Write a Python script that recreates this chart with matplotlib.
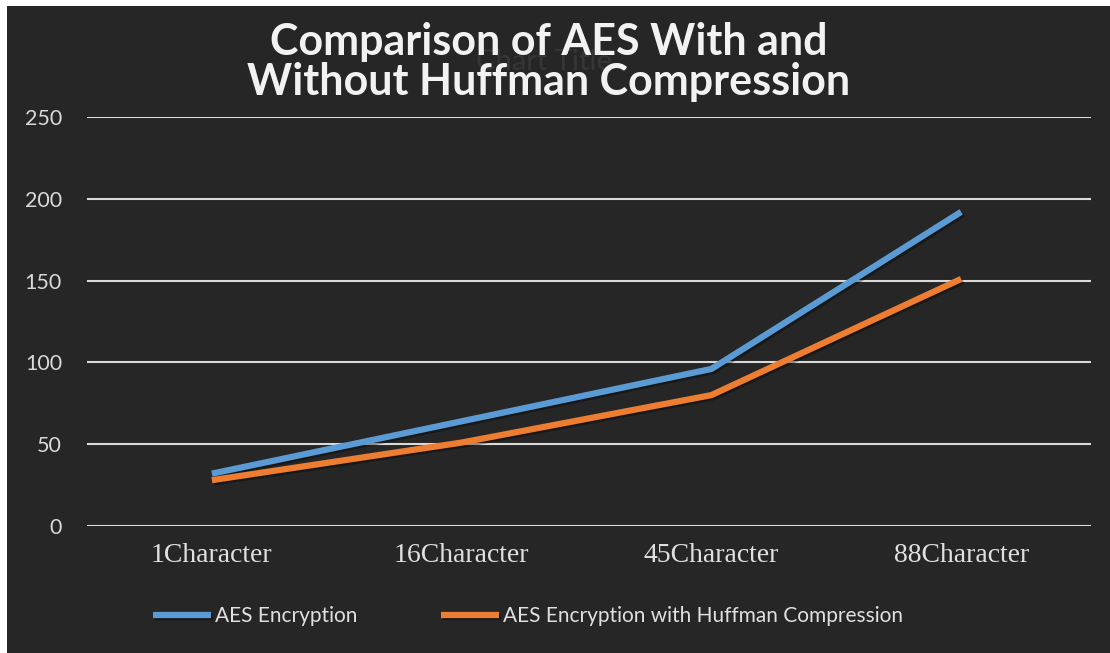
import matplotlib
matplotlib.use("Agg")
import matplotlib.pyplot as plt
import matplotlib.patheffects as pe

# chart data
categories = ["1Character", "16Character", "45Character", "88Character"]
aes_plain = [32, 64, 96, 192]
aes_huffman = [28, 51, 80, 151]
series_names = ["AES Encryption", "AES Encryption with Huffman Compression"]
y_ticks = [0, 50, 100, 150, 200, 250]

BG = "#262626"
BLUE = "#5B9BD5"
ORANGE = "#ED7D31"
GRID = "#d9d9d9"

fig = plt.figure(figsize=(11.10, 6.53), dpi=100, facecolor="white")

# dark chart area with a thin white margin on the left and top
fig.patches.append(plt.Rectangle((7 / 1110, 0), 1 - 7 / 1110, 1 - 6 / 653,
                                 transform=fig.transFigure, facecolor=BG,
                                 edgecolor="none", zorder=-10))

ax = fig.add_axes([87 / 1110, (653 - 526) / 653, 1004 / 1110, 409 / 653])
ax.set_facecolor(BG)
ax.patch.set_alpha(0)

x = range(len(categories))
shadow = [pe.SimpleLineShadow(offset=(1.5, -1.5), shadow_color="black", alpha=0.35), pe.Normal()]
l1, = ax.plot(x, aes_plain, color=BLUE, lw=4.5, solid_capstyle="butt", zorder=3,
              path_effects=shadow)
l2, = ax.plot(x, aes_huffman, color=ORANGE, lw=4.5, solid_capstyle="butt", zorder=3,
              path_effects=shadow)

ax.set_xlim(-0.5, 3.52)
ax.set_ylim(0, 250)
ax.set_yticks(y_ticks)
ax.set_xticks(list(x))
ax.set_xticklabels(categories, family="Liberation Serif", fontsize=20, color="#e0e0e0")
ax.tick_params(axis="y", labelsize=15.5, colors="#d9d9d9", length=0, pad=18)
ax.tick_params(axis="x", length=0, pad=12)
for lbl in ax.get_yticklabels():
    lbl.set_family("Lato")
ax.grid(axis="y", color=GRID, lw=1.5)
ax.set_axisbelow(True)
for s in ax.spines.values():
    s.set_visible(False)

# faint default title left behind the real one
fig.text(0.49, 0.905, "Chart Title", ha="center", va="center", fontsize=21,
         color="#363636", family="Lato")
fig.text(0.494, 0.905, "Comparison of AES With and\nWithout Huffman Compression",
         ha="center", va="center", fontsize=31, fontweight="bold", color="#f2f2f2",
         family="Lato", linespacing=1.0)

fig.legend([l1, l2], series_names, loc="center left", bbox_to_anchor=(134 / 1110, 1 - 616 / 653),
           ncol=2, frameon=False, labelcolor="#e0e0e0", handlelength=2.8,
           handletextpad=0.2, columnspacing=4.0, prop={"family": "Lato", "size": 15})

fig.savefig("out.png", dpi=100, facecolor="white")
